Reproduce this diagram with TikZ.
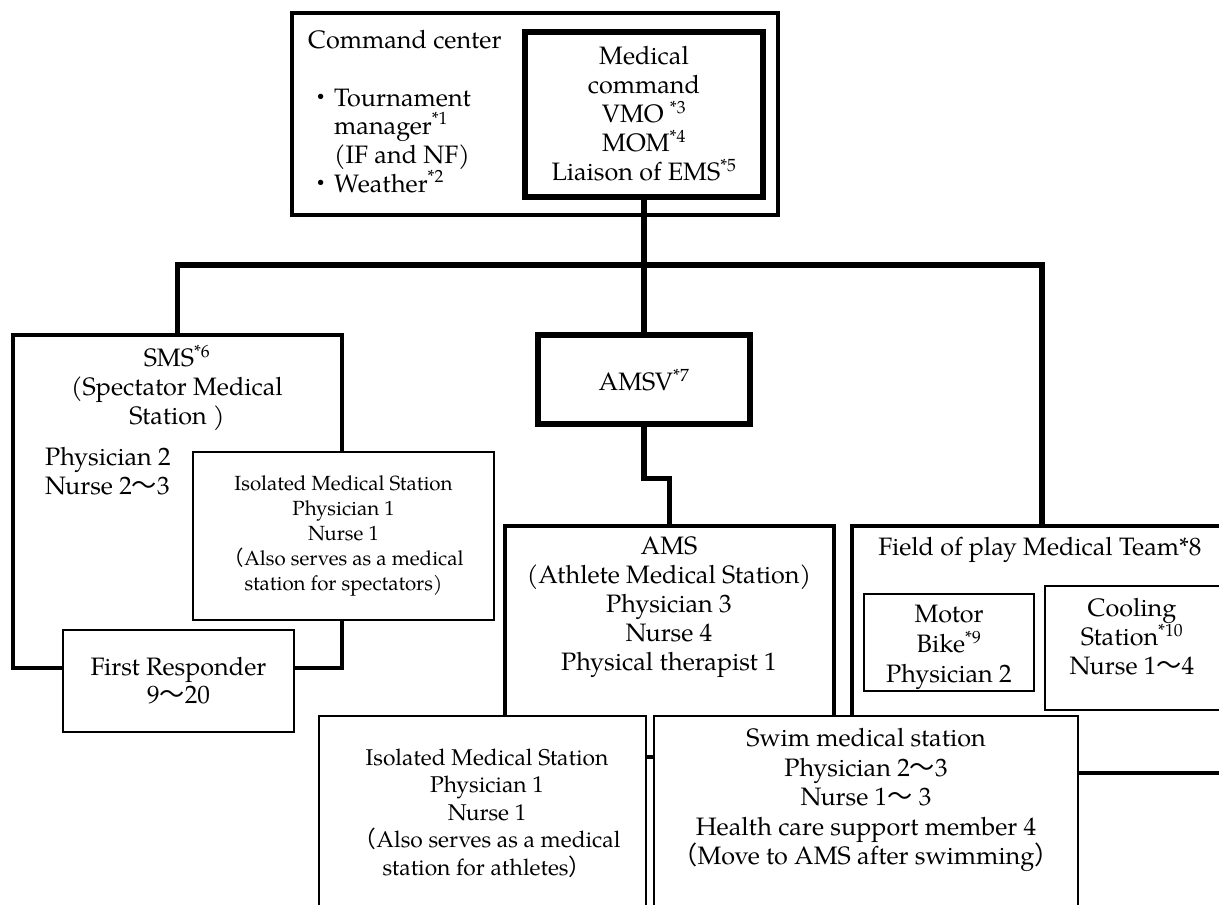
\documentclass[tikz,border=0pt]{standalone}
\usepackage{fontspec}
\setmainfont{TeX Gyre Pagella}
\newfontfamily\cjk{Noto Sans CJK JP}
\newcommand\wavy{{\cjk ～}}
\newcommand\kbul{{\cjk ・}}
\newcommand\fwlp{{\cjk （}}
\newcommand\fwrp{{\cjk ）}}
\newcommand\sups[1]{\textsuperscript{#1}}
\tikzset{
  bx/.style={draw, fill=white, inner sep=0pt, line join=miter},
  heavy/.style={bx, line width=6.5pt},
  mainbox/.style={bx, line width=4.5pt},
  thinbox/.style={bx, line width=1.5pt},
  conn/.style={line width=5.5pt, line join=miter},
  txt/.style={align=center, inner sep=0pt, font=\fontsize{25.2}{29}\selectfont},
  smalltxt/.style={align=center, inner sep=0pt, font=\fontsize{20.5}{25}\selectfont},
  midtxt/.style={align=center, inner sep=0pt, font=\fontsize{22.8}{27.5}\selectfont},
  listline/.style={inner sep=0pt, anchor=base west, font=\fontsize{25.2}{29}\selectfont},
  bulletmark/.style={inner sep=0pt, anchor=base, font=\fontsize{25.2}{29}\selectfont},
}
\begin{document}
\begin{tikzpicture}[x=1pt,y=-1pt]
\useasboundingbox (0,0) rectangle (1219,905);
\clip (0,0) rectangle (1219,905);
% boxes
\node[bx, line width=4pt, minimum width=486pt, minimum height=202pt] (cc) at (535,114) {};
\node[heavy, minimum width=238pt, minimum height=165pt] (mc) at (644,114.5) {};
\node[heavy, minimum width=212pt, minimum height=89pt] (amsv) at (644,379.5) {};
\node[mainbox, minimum width=329pt, minimum height=333pt] (sms) at (177.5,501.5) {};
\node[thinbox, minimum width=301pt, minimum height=168pt] (isms) at (343.5,536) {};
\node[thinbox, minimum width=231pt, minimum height=102pt] (fr) at (178.5,681) {};
\node[mainbox, minimum width=329pt, minimum height=231pt] (ams) at (669.5,641.5) {};
\node[mainbox, minimum width=380pt, minimum height=247pt] (fop) at (1042,649.5) {};
\node[thinbox, minimum width=170pt, minimum height=97pt] (moto) at (949,642.5) {};
\node[thinbox, minimum width=180pt, minimum height=124pt] (cool) at (1135,648) {};
\node[thinbox, minimum width=327pt, minimum height=214pt] (iams) at (482.5,823) {};
\node[thinbox, minimum width=424pt, minimum height=214pt] (swim) at (866,823) {};
% connectors
\coordinate (hub) at (644,265);
\draw[conn] (mc.south) -- (hub);
\draw[conn] (sms.north) |- (hub) -| (fop.north);
\draw[conn] (hub) -- (amsv.north);
\draw[conn] (amsv.south) -- ++(0,51) -| (ams.north);
% texts
\node[txt, anchor=west] (cct) at (308,40) {Command center};
\node[bulletmark] (b1) at (321,106) {\kbul};
\node[listline] (l1) at (334,106) {Tournament};
\node[listline] (l2) at (334,134) {manager\sups{*1}};
\node[listline] (l3) at (334,163) {(IF and NF)};
\node[bulletmark] (b2) at (321,192) {\kbul};
\node[listline] (l4) at (334,192) {Weather\sups{*2}};
\node[txt] (mct) at (644,113.5) {Medical\\command\\VMO \sups{*3}\\MOM\sups{*4}\\Liaison of EMS\sups{*5}};
\node[txt] (amsvt) at (644,380) {AMSV\sups{*7}};
\node[txt] (smst) at (177,388) {SMS\sups{*6}\\(Spectator Medical\\Station )};
\node[txt, anchor=west, align=left] (smsst) at (45,471) {Physician 2\\Nurse 2\wavy 3};
\node[smalltxt] (ismst) at (343.5,536) {Isolated Medical Station\\Physician 1\\Nurse 1\\\fwlp Also serves as a medical\\station for spectators)};
\node[txt, font=\fontsize{25.2}{28}\selectfont] (frt) at (178.5,681) {First Responder\\9\wavy 20};
\node[txt] (amst) at (669,607) {AMS\\(Athlete Medical Station)\\Physician 3\\Nurse 4\\Physical therapist 1};
\node[txt] (fopt) at (1040,550) {Field of play Medical Team*8};
\node[txt, font=\fontsize{25.2}{30}\selectfont] (motot) at (949,647) {Motor\\Bike\sups{*9}\\Physician 2};
\node[txt] (coolt) at (1132,637) {Cooling\\Station\sups{*10}\\Nurse 1\wavy 4};
\node[midtxt] (iamst) at (487,813) {Isolated Medical Station\\Physician 1\\Nurse 1\\\fwlp Also serves as a medical\\station for athletes\fwrp};
\node[txt, font=\fontsize{25.2}{29.5}\selectfont] (swimt) at (866,800) {Swim medical station\\Physician 2\wavy 3\\Nurse 1\wavy\ 3\\Health care support member 4\\\fwlp Move to AMS after swimming\fwrp};
\end{tikzpicture}
\end{document}
